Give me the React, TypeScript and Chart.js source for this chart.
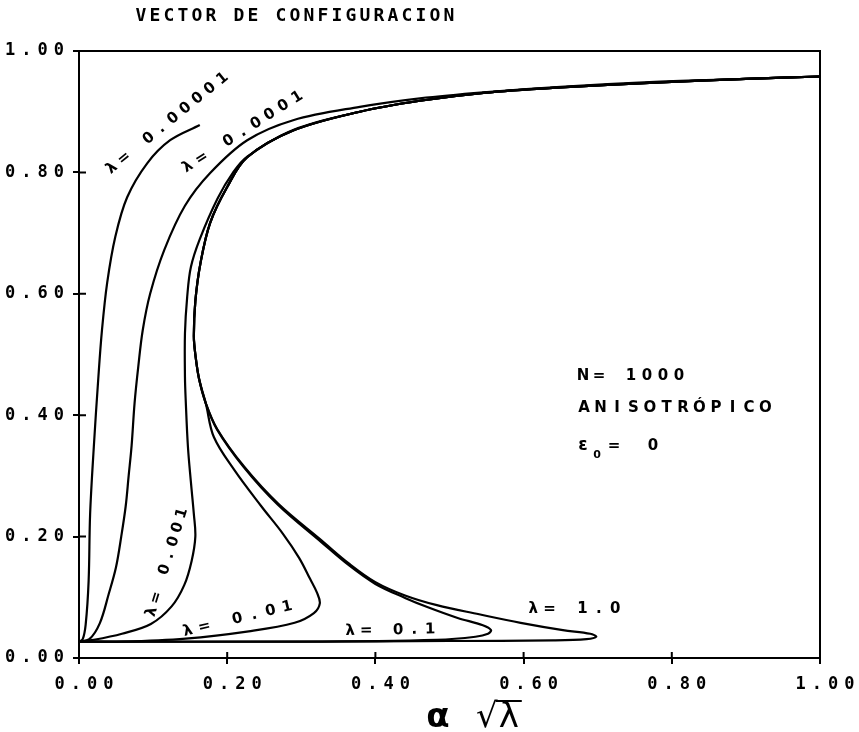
import React, { useEffect, useRef } from "react";
import { Chart, registerables } from "chart.js";

Chart.register(...registerables);

// ---------- tick values ----------
const xTickValues = [0, 0.2, 0.4, 0.6, 0.8, 1.0];
const yTickValues = [0, 0.2, 0.4, 0.6, 0.8, 1.0];

// ---------- series ----------
const lam00001X = [0.000, 0.005, 0.009, 0.013, 0.015, 0.020, 0.026, 0.031, 0.038, 0.049, 0.065, 0.092, 0.123, 0.163];
const lam00001Y = [0.027, 0.031, 0.055, 0.127, 0.237, 0.348, 0.460, 0.540, 0.618, 0.694, 0.759, 0.815, 0.853, 0.878];

const lam0001X = [0.000, 0.014, 0.028, 0.040, 0.050, 0.057, 0.063, 0.067, 0.071, 0.075, 0.080, 0.086, 0.096, 0.115, 0.143, 0.177, 0.227, 0.289, 0.379, 0.460, 0.546, 0.650, 0.777, 0.900, 1.000];
const lam0001Y = [0.027, 0.031, 0.057, 0.105, 0.150, 0.200, 0.250, 0.300, 0.350, 0.420, 0.480, 0.540, 0.600, 0.672, 0.745, 0.799, 0.853, 0.886, 0.908, 0.922, 0.932, 0.941, 0.949, 0.954, 0.958];

const lam001X = [0.000, 0.020, 0.058, 0.097, 0.125, 0.142, 0.152, 0.157, 0.155, 0.151, 0.147, 0.144, 0.143, 0.143, 0.146, 0.151, 0.163, 0.187, 0.208, 0.227, 0.289, 0.379, 0.460, 0.546, 0.650, 0.777, 0.900, 1.000];
const lam001Y = [0.027, 0.030, 0.040, 0.056, 0.085, 0.120, 0.160, 0.200, 0.237, 0.290, 0.348, 0.425, 0.463, 0.535, 0.595, 0.644, 0.690, 0.757, 0.800, 0.826, 0.870, 0.900, 0.918, 0.931, 0.940, 0.948, 0.954, 0.958];

const lam01X = [0.000, 0.059, 0.144, 0.229, 0.291, 0.317, 0.325, 0.321, 0.312, 0.297, 0.275, 0.246, 0.210, 0.182, 0.171, 0.162, 0.157, 0.155, 0.157, 0.164, 0.177, 0.200, 0.227, 0.289, 0.379, 0.460, 0.546, 0.650, 0.777, 0.900, 1.000];
const lam01Y = [0.027, 0.027, 0.032, 0.044, 0.058, 0.074, 0.090, 0.108, 0.130, 0.165, 0.205, 0.250, 0.309, 0.364, 0.420, 0.460, 0.500, 0.530, 0.588, 0.651, 0.717, 0.776, 0.825, 0.869, 0.900, 0.918, 0.931, 0.940, 0.948, 0.954, 0.958];

const lam1X = [0.000, 0.300, 0.483, 0.535, 0.552, 0.556, 0.545, 0.511, 0.470, 0.440, 0.400, 0.365, 0.327, 0.268, 0.222, 0.186, 0.171, 0.162, 0.157, 0.155, 0.157, 0.164, 0.177, 0.200, 0.227, 0.289, 0.379, 0.460, 0.546, 0.650, 0.777, 0.900, 1.000];
const lam1Y = [0.027, 0.027, 0.030, 0.035, 0.040, 0.046, 0.054, 0.066, 0.084, 0.099, 0.122, 0.152, 0.191, 0.253, 0.315, 0.377, 0.420, 0.460, 0.500, 0.530, 0.588, 0.651, 0.717, 0.776, 0.825, 0.869, 0.900, 0.918, 0.931, 0.940, 0.948, 0.954, 0.958];

const lam10X = [0.000, 0.300, 0.500, 0.640, 0.685, 0.698, 0.690, 0.653, 0.596, 0.540, 0.483, 0.440, 0.400, 0.365, 0.328, 0.269, 0.223, 0.187, 0.171, 0.162, 0.157, 0.155, 0.157, 0.164, 0.177, 0.200, 0.227, 0.289, 0.379, 0.460, 0.546, 0.650, 0.777, 0.900, 1.000];
const lam10Y = [0.027, 0.027, 0.028, 0.029, 0.031, 0.035, 0.040, 0.046, 0.058, 0.072, 0.087, 0.103, 0.125, 0.155, 0.193, 0.254, 0.315, 0.376, 0.420, 0.460, 0.500, 0.530, 0.588, 0.651, 0.717, 0.776, 0.825, 0.869, 0.900, 0.918, 0.931, 0.940, 0.948, 0.954, 0.958];

const seriesLabels = ["λ= 0.00001", "λ= 0.0001", "λ= 0.001", "λ= 0.01", "λ= 0.1", "λ= 1.0"];
const seriesX = [lam00001X, lam0001X, lam001X, lam01X, lam1X, lam10X];
const seriesY = [lam00001Y, lam0001Y, lam001Y, lam01Y, lam1Y, lam10Y];

// ---------- texts ----------
const titleText = "VECTOR DE CONFIGURACION";
const noteN = "N= 1000";
const noteAniso = "ANISOTRÓPICO";
const noteEps = "ε";
const noteEpsSub = "0";
const noteEpsVal = "=  0";

// curve label placement (data coords of first char, angle deg, pitch px)
const curveLabelPlaces = [
  { x: 0.0445, y: 0.807, angle: -39, pitch: 15.8 },
  { x: 0.147, y: 0.809, angle: -32.5, pitch: 16.2 },
  { x: 0.0985, y: 0.076, angle: -73, pitch: 14.7 },
  { x: 0.147, y: 0.0445, angle: -13.6, pitch: 17 },
  { x: 0.366, y: 0.0445, angle: -1, pitch: 16 },
  { x: 0.613, y: 0.081, angle: 0, pitch: 16.4 },
];

const MONO = '"DejaVu Sans Mono", monospace';
const SANS = '"DejaVu Sans", sans-serif';

function drawSpaced(ctx: CanvasRenderingContext2D, text: string, x: number, y: number, angleDeg: number, pitch: number, font: string) {
  const a = (angleDeg * Math.PI) / 180;
  ctx.save();
  ctx.font = font;
  ctx.fillStyle = "#000";
  ctx.textAlign = "center";
  ctx.textBaseline = "middle";
  Array.from(text).forEach((ch, i) => {
    if (ch === " ") return;
    ctx.save();
    ctx.translate(x + i * pitch * Math.cos(a), y + i * pitch * Math.sin(a));
    ctx.rotate(a);
    ctx.fillText(ch, 0, 0);
    ctx.restore();
  });
  ctx.restore();
}

const decorPlugin = {
  id: "decor",
  beforeDraw(chart: any) {
    (chart.ctx as any).letterSpacing = "6px";
  },
  afterDraw(chart: any) {
    const ctx: CanvasRenderingContext2D = chart.ctx;
    (ctx as any).letterSpacing = "0px";
    const { left, right, top, bottom } = chart.chartArea;
    const xs = chart.scales.x;
    const ys = chart.scales.y;
    ctx.save();
    ctx.strokeStyle = "#000";
    ctx.lineWidth = 2;
    ctx.strokeRect(left, top, right - left, bottom - top);
    // inner tick halves
    ctx.beginPath();
    yTickValues.forEach((v) => {
      const p = ys.getPixelForValue(v);
      ctx.moveTo(left, p);
      ctx.lineTo(left + 7, p);
    });
    xTickValues.forEach((v) => {
      const p = xs.getPixelForValue(v);
      ctx.moveTo(p, bottom);
      ctx.lineTo(p, bottom - 6);
    });
    ctx.stroke();
    ctx.restore();

    // title
    drawSpaced(ctx, titleText, 141, 16, 0, 14, `bold 18px ${MONO}`);

    // x axis title  α √λ
    ctx.save();
    ctx.fillStyle = "#000";
    ctx.strokeStyle = "#000";
    ctx.font = `bold 34px ${SANS}`;
    ctx.textBaseline = "alphabetic";
    ctx.textAlign = "center";
    ctx.fillText("α", 438, 727);
    ctx.font = `34px ${SANS}`;
    ctx.textAlign = "left";
    const sx = 476;
    const wR = ctx.measureText("√").width;
    ctx.fillText("√", sx, 727);
    const wL = ctx.measureText("λ").width;
    ctx.fillText("λ", sx + wR + 1, 727);
    ctx.lineWidth = 2;
    ctx.beginPath();
    ctx.moveTo(sx + wR - 2, 701);
    ctx.lineTo(sx + wR + wL + 4, 701);
    ctx.stroke();
    ctx.restore();

    // curve labels
    curveLabelPlaces.forEach((p, i) => {
      drawSpaced(ctx, seriesLabels[i], xs.getPixelForValue(p.x), ys.getPixelForValue(p.y), p.angle, p.pitch, `bold 15px ${SANS}`);
    });

    // note block
    const nf = `bold 15px ${SANS}`;
    drawSpaced(ctx, noteN, 583, 376, 0, 16, nf);
    drawSpaced(ctx, noteAniso, 584, 408, 0, 16.5, nf);
    drawSpaced(ctx, noteEps, 583, 446, 0, 16, `bold 17px ${SANS}`);
    drawSpaced(ctx, noteEpsSub, 597, 455, 0, 16, `bold 11px ${SANS}`);
    drawSpaced(ctx, noteEpsVal, 614, 446, 0, 13, nf);
  },
};

export default function App() {
  const ref = useRef<HTMLCanvasElement | null>(null);
  useEffect(() => {
    if (!ref.current) return;
    const datasets = seriesLabels.map((lab, i) => ({
      label: lab,
      data: seriesX[i].map((x, j) => ({ x, y: seriesY[i][j] })),
      showLine: true,
      borderColor: "#000",
      backgroundColor: "#000",
      borderWidth: 2.2,
      pointRadius: 0,
      tension: 0.35,
      fill: false,
    }));
    const tickFont = { family: MONO, weight: "bold" as const, size: 17 };
    const chart = new Chart(ref.current, {
      type: "scatter",
      data: { datasets },
      options: {
        responsive: false,
        devicePixelRatio: 1,
        animation: false,
        layout: { padding: { left: 0, top: 51, right: 39, bottom: 0 } },
        plugins: { legend: { display: false }, tooltip: { enabled: false }, title: { display: false } },
        scales: {
          x: {
            type: "linear",
            min: 0,
            max: 1,
            afterBuildTicks: (s: any) => {
              s.ticks = xTickValues.map((v) => ({ value: v }));
            },
            afterFit: (s: any) => {
              s.height = 74;
            },
            ticks: {
              callback: (v: any) => Number(v).toFixed(2),
              font: tickFont,
              color: "#000",
              padding: 10,
              labelOffset: 8,
              maxRotation: 0,
              autoSkip: false,
            },
            grid: { drawOnChartArea: false, drawTicks: true, tickLength: 6, color: "#000", lineWidth: 2 },
            border: { display: true, color: "#000", width: 2 },
          },
          y: {
            type: "linear",
            min: 0,
            max: 1,
            afterBuildTicks: (s: any) => {
              s.ticks = yTickValues.map((v) => ({ value: v }));
            },
            afterFit: (s: any) => {
              s.width = 79;
            },
            ticks: {
              callback: (v: any) => Number(v).toFixed(2),
              font: tickFont,
              color: "#000",
              padding: 3,
              autoSkip: false,
            },
            grid: { drawOnChartArea: false, drawTicks: true, tickLength: 6, color: "#000", lineWidth: 2 },
            border: { display: true, color: "#000", width: 2 },
          },
        },
      },
      plugins: [decorPlugin],
    });
    return () => chart.destroy();
  }, []);
  return (
    <div style={{ position: "absolute", left: 0, top: 0, width: 859, height: 732, background: "#fff" }}>
      <canvas ref={ref} width={859} height={732} style={{ display: "block", width: 859, height: 732 }} />
    </div>
  );
}
